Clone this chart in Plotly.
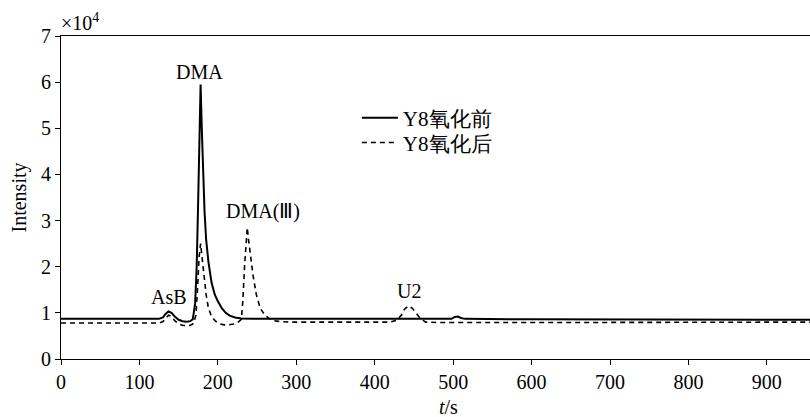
import plotly.graph_objects as go

# Solid: before oxidation (Y8氧化前)
t_before = [0, 60, 125, 130, 133, 137, 141, 145, 150, 155, 160, 165, 168, 171, 173, 175, 176.5, 178, 179.5, 181, 183, 185, 188, 192, 196, 200, 205, 210, 215, 222, 230, 245, 260, 350, 450, 498, 502, 506, 510, 515, 600, 700, 800, 955]
y_before = [0.87, 0.87, 0.87, 0.9, 0.97, 1.03, 1.0, 0.92, 0.85, 0.82, 0.81, 0.82, 0.86, 1.2, 2.0, 3.5, 4.8, 5.95, 5.0, 4.0, 3.2, 2.6, 2.1, 1.65, 1.4, 1.25, 1.1, 1.0, 0.94, 0.9, 0.88, 0.87, 0.87, 0.86, 0.86, 0.87, 0.91, 0.92, 0.89, 0.87, 0.86, 0.86, 0.85, 0.85]

# Dashed: after oxidation (Y8氧化后)
t_after = [0, 60, 125, 130, 133, 137, 141, 145, 150, 155, 160, 165, 169, 172, 174, 176, 178, 180, 182, 185, 188, 192, 197, 203, 208, 214, 220, 226, 230, 232, 234, 236, 237.5, 239, 242, 245, 249, 254, 260, 266, 275, 290, 350, 420, 428, 434, 438, 443, 448, 453, 458, 465, 480, 600, 700, 800, 955]
y_after = [0.78, 0.78, 0.78, 0.81, 0.88, 0.95, 0.92, 0.83, 0.76, 0.73, 0.72, 0.73, 0.77, 0.95, 1.5, 2.2, 2.5, 2.2, 1.8, 1.4, 1.1, 0.92, 0.82, 0.76, 0.74, 0.74, 0.76, 0.8, 0.86, 1.3, 2.0, 2.6, 2.85, 2.6, 2.2, 1.8, 1.4, 1.1, 0.95, 0.87, 0.82, 0.8, 0.8, 0.8, 0.84, 0.95, 1.08, 1.15, 1.1, 1.0, 0.88, 0.8, 0.79, 0.79, 0.79, 0.79, 0.8]

x_ticks = [0, 100, 200, 300, 400, 500, 600, 700, 800, 900]
y_ticks = [0, 1, 2, 3, 4, 5, 6, 7]

peak_labels = ["DMA", "DMA(Ⅲ)", "AsB", "U2"]
peak_t = [177, 258, 138, 444]
peak_y = [6.22, 3.19, 1.34, 1.47]

FONT = "Times New Roman, Liberation Serif, serif"

fig = go.Figure()
fig.add_trace(go.Scatter(x=t_before, y=y_before, mode="lines", name="Y8氧化前",
                         line=dict(color="black", width=2), legend="legend"))
fig.add_trace(go.Scatter(x=t_after, y=y_after, mode="lines", name="Y8氧化后",
                         line=dict(color="black", width=1.6, dash="5px,4px"), legend="legend2"))

for lab, tx, ty in zip(peak_labels, peak_t, peak_y):
    fig.add_annotation(x=tx, y=ty, text=lab, showarrow=False, xref="x", yref="y",
                       font=dict(family=FONT, size=20, color="black"))

fig.add_annotation(x=0, y=1, xref="paper", yref="paper", text="×10<sup>4</sup>",
                   showarrow=False, xanchor="left", yanchor="bottom", yshift=0, xshift=-2,
                   font=dict(family=FONT, size=20, color="black"))

# x-axis title
fig.add_annotation(x=0.518, y=0, xref="paper", yref="paper", text="<i>t</i>/s",
                   showarrow=False, xanchor="center", yanchor="middle", yshift=-48,
                   font=dict(family=FONT, size=20, color="black"))

leg_common = dict(x=0.395, xanchor="left", yanchor="middle", bgcolor="rgba(0,0,0,0)",
                  font=dict(family=FONT, size=21), itemwidth=36)

fig.update_layout(
    width=810, height=417,
    margin=dict(l=61, r=0, t=36, b=58),
    paper_bgcolor="white", plot_bgcolor="white",
    font=dict(family=FONT, size=20, color="black"),
    showlegend=True,
    legend=dict(y=0.746, **leg_common),
    legend2=dict(y=0.669, **leg_common),
    xaxis=dict(range=[0, 955], tickvals=x_ticks, ticks="outside", ticklen=5, tickwidth=1,
               tickcolor="black", showline=True, linecolor="black", linewidth=1.2, mirror=True,
               showgrid=False, zeroline=False, tickfont=dict(family=FONT, size=20)),
    yaxis=dict(range=[0, 7], tickvals=y_ticks, ticks="outside", ticklen=5, tickwidth=1,
               tickcolor="black", showline=True, linecolor="black", linewidth=1.2, mirror=True,
               showgrid=False, zeroline=False, tickfont=dict(family=FONT, size=20),
               title=dict(text="Intensity", font=dict(family=FONT, size=20), standoff=8)),
)

fig.write_html("out.html")
